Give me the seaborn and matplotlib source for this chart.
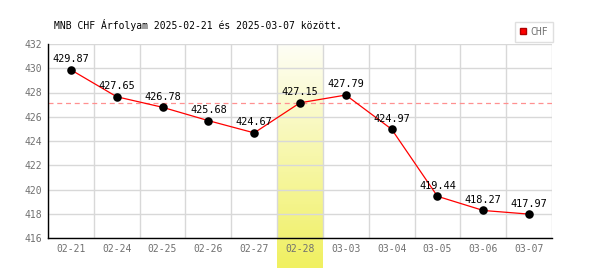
import numpy as np
import pandas as pd
import matplotlib
matplotlib.use("Agg")
import matplotlib.pyplot as plt
from matplotlib.lines import Line2D
from matplotlib.colors import LinearSegmentedColormap
import seaborn as sns

dates = ["02-21", "02-24", "02-25", "02-26", "02-27", "02-28",
         "03-03", "03-04", "03-05", "03-06", "03-07"]
values = [429.87, 427.65, 426.78, 425.68, 424.67, 427.15,
          427.79, 424.97, 419.44, 418.27, 417.97]
highlight = "02-28"
ref_value = 427.15
title = "MNB CHF Árfolyam 2025-02-21 és 2025-03-07 között."
y_ticks = [416, 418, 420, 422, 424, 426, 428, 430, 432]

sns.set_theme(style="white")
plt.rcParams['font.family'] = ['DejaVu Sans Mono']

df = pd.DataFrame({"x": np.arange(len(dates)), "date": dates, "value": values})

fig = plt.figure(figsize=(6, 2.7), dpi=100)
ax = fig.add_axes([48/600, 1-238/270, 504/600, 194/270])
ax.set_axisbelow(False)

# highlight gradient band
hi = dates.index(highlight)
grad = np.linspace(0, 1, 256).reshape(-1, 1)
cmap = LinearSegmentedColormap.from_list("yl", ["#fefef6", "#f0f060"])
px = 194 / 16
ax.imshow(grad, extent=(hi-0.5, hi+0.5, 416 - 30/px, 432), origin="upper",
          aspect="auto", cmap=cmap, zorder=0.3, clip_on=False)

# gridlines
for v in y_ticks:
    ax.axhline(v, color="#d8d8d8", lw=1, zorder=0.5)
for xv in np.arange(-0.5, len(dates), 1.0):
    ax.axvline(xv, color="#d8d8d8", lw=1, zorder=0.5)

ax.axhline(ref_value, color="#ff9090", lw=0.9, ls=(0, (4, 3)), zorder=1)

sns.lineplot(data=df, x="x", y="value", color="red", lw=0.9, ax=ax, zorder=2)
sns.scatterplot(data=df, x="x", y="value", color="black", s=38, ax=ax,
                zorder=3, edgecolor="black", linewidth=0)

for i, v in enumerate(values):
    ax.annotate(f"{v:.2f}", (i, v), xytext=(0, 4), textcoords="offset points",
                ha="center", va="bottom", fontsize=7.4, color="black", zorder=4)

ax.set_xlim(-0.5, len(dates) - 0.5)
ax.set_ylim(416, 432)
ax.set_xticks(range(len(dates)))
ax.set_xticklabels(dates)
ax.set_yticks(y_ticks)
ax.set_xlabel("")
ax.set_ylabel("")
ax.tick_params(axis="both", length=0, labelsize=7, labelcolor="#707070", pad=4.5)
for s in ["top", "right"]:
    ax.spines[s].set_visible(False)
for s in ["left", "bottom"]:
    ax.spines[s].set_color("black")
    ax.spines[s].set_linewidth(1)
    ax.spines[s].set_zorder(5)

fig.text(54/600, 1-25/270, title, fontsize=7, color="black", va="center", ha="left")

handle = Line2D([], [], marker="s", color="red", linestyle="", markersize=5,
                markeredgecolor="#b00000")
leg = fig.legend([handle], ["CHF"], loc="upper right",
                 bbox_to_anchor=(553/600, 1-22/270), frameon=True, fancybox=False,
                 fontsize=7, handlelength=0.6, handletextpad=0.5, borderpad=0.5,
                 borderaxespad=0)
leg.get_frame().set_edgecolor("#d8d8d8")
leg.get_frame().set_linewidth(1)
for t in leg.get_texts():
    t.set_color("#707070")

fig.savefig("out.png", dpi=100)
